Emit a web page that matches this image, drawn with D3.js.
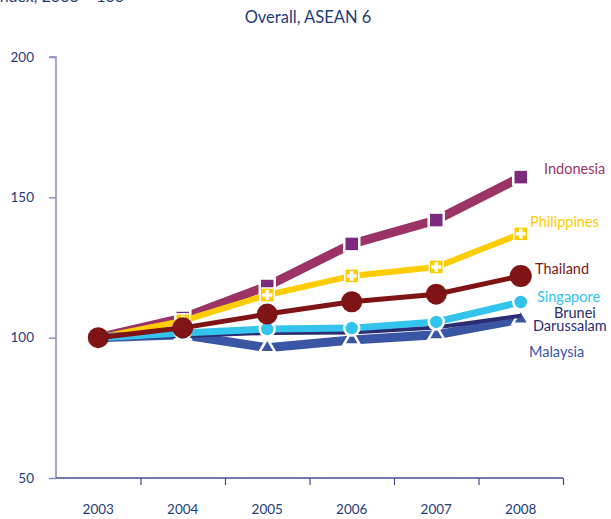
<!DOCTYPE html>
<html>
<head>
<meta charset="utf-8">
<script src="https://cdn.jsdelivr.net/npm/d3@7/dist/d3.min.js"></script>
<style>
  body { margin: 0; background: #fff; }
  svg { display: block; font-family: Lato, "Open Sans", sans-serif; }
</style>
</head>
<body>
<svg id="chart" width="611" height="519"></svg>
<script>
const years = ['2003', '2004', '2005', '2006', '2007', '2008'];
const yTicks = [50, 100, 150, 200];

const indonesia   = [100, 107, 118.4, 133.4, 141.9, 157.2];
const philippines = [100, 106, 115.2, 122, 125.2, 137];
const thailand    = [100, 103.5, 108.4, 112.8, 115.5, 122];
const singapore   = [100, 101.7, 103.1, 103.4, 105.6, 112.7];
const brunei      = [100, 100.6, 101.7, 101.8, 103.6, 107.8];
const malaysia    = [100, 101, 96.4, 99.2, 101, 106.6];

const navy = '#1f3c7a';

const svg = d3.select('svg');

const x = d3.scaleBand().domain(years).range([56, 563]).padding(0);
const xEdge = d3.scaleLinear().domain([0, years.length]).range([56, 563]);
const y = d3.scaleLinear().domain([50, 200]).range([478, 57]);

// subtitle, mostly cut off at the top edge
svg.append('text')
  .attr('x', 124).attr('y', 1.5)
  .attr('text-anchor', 'end')
  .attr('font-size', 16)
  .attr('fill', navy)
  .text('Index, 2003 = 100');

svg.append('text')
  .attr('x', 308).attr('y', 23)
  .attr('text-anchor', 'middle')
  .attr('font-size', 16.5)
  .attr('fill', navy)
  .text('Overall, ASEAN 6');

// y axis
const yAxis = svg.append('g')
  .attr('transform', 'translate(56,0)')
  .call(d3.axisLeft(y).tickValues(yTicks).tickSize(7).tickPadding(15));
yAxis.select('.domain').attr('stroke', '#8c8cc0').attr('stroke-width', 1.5)
  .attr('d', 'M-7,57H0V478');
yAxis.selectAll('.tick line').attr('stroke', '#8c8cc0').attr('stroke-width', 1.5);
yAxis.selectAll('.tick text').attr('fill', navy).attr('font-size', 13.5)
  .attr('font-family', 'Lato, sans-serif');

// x axis, ticks at the category edges
const xAxis = svg.append('g')
  .attr('transform', 'translate(0,478)')
  .call(d3.axisBottom(xEdge).tickValues(d3.range(1, years.length + 1)).tickSize(7).tickFormat(''));
xAxis.select('.domain').attr('stroke', '#3c4e8e').attr('stroke-width', 1.5)
  .attr('d', 'M56,0H563');
xAxis.selectAll('.tick line').attr('stroke', '#3c4e8e').attr('stroke-width', 1.2);

svg.append('g').selectAll('text')
  .data(years).enter().append('text')
  .attr('x', d => x(d) + x.bandwidth() / 2)
  .attr('y', 514)
  .attr('text-anchor', 'middle')
  .attr('font-size', 13.5)
  .attr('fill', navy)
  .text(d => d);

const line = d3.line()
  .x((d, i) => x(years[i]) + x.bandwidth() / 2)
  .y(d => y(d));

const cx = (d, i) => x(years[i]) + x.bandwidth() / 2;

let drawLine = (data, color, width) => {
  svg.append('path')
    .datum(data)
    .attr('d', line)
    .attr('fill', 'none')
    .attr('stroke', color)
    .attr('stroke-width', width)
    .attr('stroke-linejoin', 'miter');
};

// Indonesia
drawLine(indonesia, '#9b3366', 9);
svg.append('g').selectAll('rect').data(indonesia).enter().append('rect')
  .attr('x', (d, i) => cx(d, i) - 7.5)
  .attr('y', d => y(d) - 7.5)
  .attr('width', 15).attr('height', 15)
  .attr('fill', '#7b2a7e')
  .attr('stroke', '#fff').attr('stroke-width', 2.5);

// Philippines
drawLine(philippines, '#ffcc00', 6);
const ph = svg.append('g').selectAll('g').data(philippines).enter().append('g')
  .attr('transform', (d, i) => 'translate(' + cx(d, i) + ',' + y(d) + ')');
ph.append('rect')
  .attr('x', -7).attr('y', -7).attr('width', 14).attr('height', 14)
  .attr('fill', '#ffcc00').attr('stroke', '#fff').attr('stroke-width', 1.5);
ph.append('path')
  .attr('d', 'M-5,0H5M0,-5V5')
  .attr('stroke', '#fff').attr('stroke-width', 3.5);

// Malaysia
drawLine(malaysia, '#3b55a5', 9);
svg.append('g').selectAll('path').data(malaysia).enter().append('path')
  .attr('transform', (d, i) => 'translate(' + cx(d, i) + ',' + y(d) + ')')
  .attr('d', d3.symbol().type(d3.symbolTriangle).size(110))
  .attr('fill', '#3b55a5')
  .attr('stroke', '#fff').attr('stroke-width', 2.5);

// Brunei Darussalam
drawLine(brunei, '#2b2c73', 4);

// Singapore
drawLine(singapore, '#33c4ee', 7);
svg.append('g').selectAll('circle').data(singapore).enter().append('circle')
  .attr('cx', cx).attr('cy', d => y(d)).attr('r', 7.5)
  .attr('fill', '#33c4ee')
  .attr('stroke', '#fff').attr('stroke-width', 2.5);

// Thailand
drawLine(thailand, '#7f1416', 5);
svg.append('g').selectAll('circle').data(thailand).enter().append('circle')
  .attr('cx', cx).attr('cy', d => y(d)).attr('r', (d, i) => i === 5 ? 11 : 10.5)
  .attr('fill', '#7f1416');

// series labels
const labels = [
  { text: 'Indonesia', x: 544, y: 174, color: '#9b3366' },
  { text: 'Philippines', x: 530, y: 227, color: '#ffcc00' },
  { text: 'Thailand', x: 535, y: 274, color: '#7f1416' },
  { text: 'Singapore', x: 537, y: 302, color: '#33c4ee' },
  { text: 'Brunei', x: 554, y: 318, color: '#2b2c73' },
  { text: 'Darussalam', x: 533, y: 331, color: '#2b2c73' },
  { text: 'Malaysia', x: 529, y: 357, color: '#3b55a5' }
];
svg.append('g').selectAll('text').data(labels).enter().append('text')
  .attr('x', d => d.x).attr('y', d => d.y)
  .attr('font-size', 14.5)
  .attr('fill', d => d.color)
  .text(d => d.text);
</script>
</body>
</html>
